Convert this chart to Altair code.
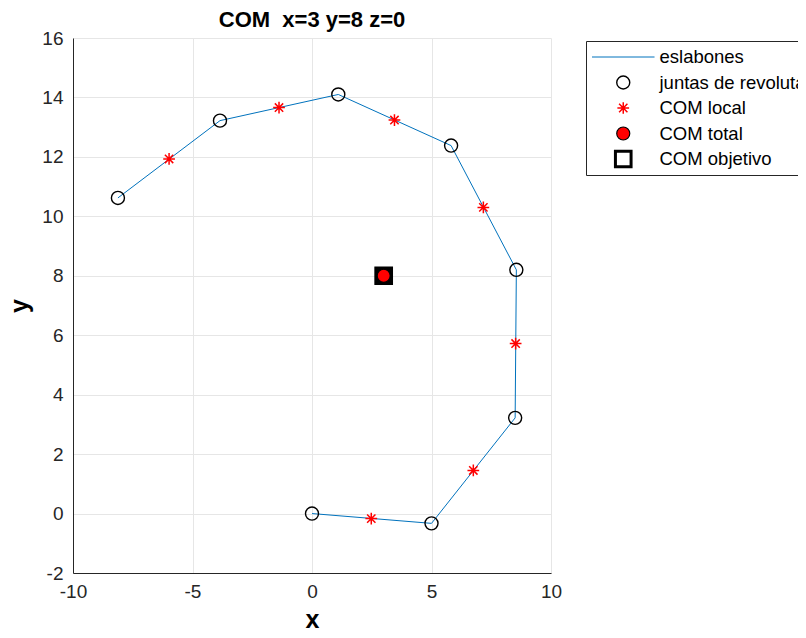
import altair as alt
import pandas as pd

# ---- data ----
joint_x = [0.0, 5.0, 8.5, 8.55, 5.82, 1.1, -3.85, -8.12]
joint_y = [0.0, -0.33, 3.22, 8.2, 12.38, 14.1, 13.22, 10.62]
local_x = [2.48, 6.75, 8.52, 7.17, 3.45, -1.38, -5.98]
local_y = [-0.17, 1.45, 5.72, 10.3, 13.24, 13.66, 11.93]
total_x = [3.0]
total_y = [8.0]
obj_x = [3.0]
obj_y = [8.0]
series = ["eslabones", "juntas de revoluta", "COM local", "COM total", "COM objetivo"]
x_ticks = [-10, -5, 0, 5, 10]
y_ticks = [-2, 0, 2, 4, 6, 8, 10, 12, 14, 16]
title_text = "COM\u00a0 x=3 y=8 z=0"

FONT = "Liberation Sans"
BLUE = "#0072BD"
LINE_PATH = "M-4.8,0H4.8"
AST_PATH = "M-0.9,0H0.9M0,-0.9V0.9M-0.64,-0.64L0.64,0.64M-0.64,0.64L0.64,-0.64"
SQ_PATH = "M-1.2,-1.2H1.2V1.2H-1.2Z"

links = pd.DataFrame({"x": joint_x, "y": joint_y, "i": list(range(len(joint_x)))})

pts = pd.concat([
    pd.DataFrame({"x": joint_x, "y": joint_y, "serie": series[1]}),
    pd.DataFrame({"x": local_x, "y": local_y, "serie": series[2]}),
    pd.DataFrame({"x": obj_x, "y": obj_y, "serie": series[4]}),
    pd.DataFrame({"x": total_x, "y": total_y, "serie": series[3]}),
], ignore_index=True)
obj = pd.DataFrame({"x": obj_x, "y": obj_y})
ttl = pd.DataFrame({"t": [title_text]})

xs = alt.Scale(domain=[-10, 10], nice=False, zero=False)
ys = alt.Scale(domain=[-2, 16], nice=False, zero=False)

LBL = "'' + datum.value"
xax = alt.Axis(values=x_ticks, title="x", grid=True, ticks=False, tickSize=0,
               labelPadding=9, titlePadding=6, labelFlush=False, labelExpr=LBL)
yax = alt.Axis(values=y_ticks, title="y", grid=True, ticks=False, tickSize=0,
               labelPadding=10, titlePadding=9, labelExpr=LBL)

leg = alt.Legend(title=None, orient="none", legendX=513, legendY=3,
                 direction="vertical", strokeColor="#262626", fillColor="white",
                 padding=6, labelFontSize=18.5, labelFont=FONT, labelColor="black",
                 symbolSize=170, rowPadding=5.5, clipHeight=20, symbolOffset=22,
                 labelOffset=27, labelLimit=400, symbolType="circle")

line = alt.Chart(links).mark_line(color=BLUE, strokeWidth=1).encode(
    x=alt.X("x:Q", scale=xs, axis=xax),
    y=alt.Y("y:Q", scale=ys, axis=yax),
    order="i:Q",
)

sq_back = alt.Chart(obj).mark_point(shape=SQ_PATH, filled=True, fill="black",
                                    stroke="black", size=170, opacity=1).encode(
    x=alt.X("x:Q", scale=xs), y=alt.Y("y:Q", scale=ys))

points = alt.Chart(pts).mark_point(opacity=1, size=170).encode(
    x=alt.X("x:Q", scale=xs),
    y=alt.Y("y:Q", scale=ys),
    shape=alt.Shape("serie:N", scale=alt.Scale(domain=series,
                    range=[LINE_PATH, "circle", AST_PATH, "circle", SQ_PATH]), legend=leg),
    fill=alt.Fill("serie:N", scale=alt.Scale(domain=series,
                  range=["transparent", "transparent", "transparent", "red", "transparent"]), legend=leg),
    stroke=alt.Stroke("serie:N", scale=alt.Scale(domain=series,
                      range=[BLUE, "black", "red", "black", "black"]), legend=leg),
    strokeWidth=alt.StrokeWidth("serie:N", scale=alt.Scale(domain=series, type="ordinal",
                                range=[1, 1.4, 1.5, 1.2, 3]), legend=leg),
)

title = alt.Chart(ttl).mark_text(font=FONT, fontSize=22, fontWeight="bold", color="black",
                                 align="center", baseline="alphabetic").encode(
    text="t:N", x=alt.value(239), y=alt.value(-11))

chart = alt.layer(line, sq_back, points, title).properties(
    width=478, height=535,
    autosize=alt.AutoSizeParams(type="none"),
    padding={"left": 65, "top": 30, "right": 247, "bottom": 57},
).configure_view(stroke=None).configure_axis(
    labelFont=FONT, labelFontSize=19, labelColor="#262626",
    titleFont=FONT, titleFontSize=25, titleFontWeight="bold", titleColor="black",
    domainColor="#262626", domainWidth=1, gridColor="#e6e6e6", gridWidth=1,
).configure_axisY(titleAngle=270)

chart.save("out.html", embed_options={"renderer": "svg", "actions": False})
